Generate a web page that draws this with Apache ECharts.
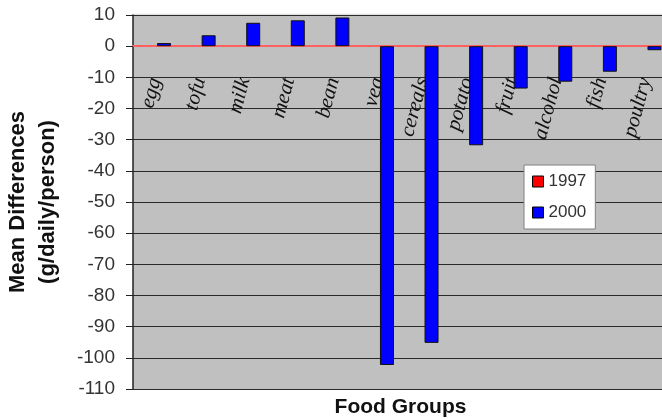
<!DOCTYPE html>
<html>
<head>
<meta charset="utf-8">
<script src="https://cdn.jsdelivr.net/npm/echarts@6/dist/echarts.min.js"></script>
<style>
  html, body { margin: 0; padding: 0; background: #fff; overflow: hidden; }
  #chart { width: 662px; height: 419px; }
</style>
</head>
<body>
<div id="chart"></div>
<script>
// Food groups along the category axis
const categories = ['egg', 'tofu', 'milk', 'meat', 'bean', 'veg', 'cereals', 'potato', 'fruit', 'alcohol', 'fish', 'poultry'];
// Mean differences in intake (g/daily/person)
const values1997 = [0, 0, 0, 0, 0, 0, 0, 0, 0, 0, 0, 0];
const values2000 = [1, 3.5, 7.5, 8.3, 9.2, -102.3, -95.2, -31.8, -13.6, -11.4, -8.2, -1.3];
// Value axis range
const yMin = -110, yMax = 10, yStep = 10;

const gridTop = 15, gridBottom = 30, chartH = 419;
// pixel distance from the bottom of the plot up to the zero line
const zeroLift = (chartH - gridTop - gridBottom) * (0 - yMin) / (yMax - yMin);

const chart = echarts.init(document.getElementById('chart'), null, { renderer: 'canvas' });

chart.setOption({
  animation: false,
  backgroundColor: '#ffffff',
  grid: {
    left: 133, right: -6, top: gridTop, bottom: gridBottom,
    outerBoundsMode: 'none', containLabel: false,
    show: true, backgroundColor: '#c0c0c0', borderWidth: 0
  },
  legend: {
    orient: 'vertical',
    left: 524, top: 165,
    backgroundColor: '#ffffff',
    borderColor: '#808080', borderWidth: 1,
    padding: [8, 9, 8, 8],
    itemGap: 14,
    itemWidth: 11, itemHeight: 11,
    icon: 'rect',
    textStyle: { fontFamily: 'Liberation Sans', fontSize: 17, color: '#333', padding: [0, 0, 0, 0] },
    data: [
      { name: '1997', itemStyle: { color: '#ff0000', borderColor: '#000', borderWidth: 1 } },
      { name: '2000', itemStyle: { color: '#0000ff', borderColor: '#000', borderWidth: 1 } }
    ]
  },
  xAxis: [
    {
      // category axis carrying the red zero line and the axis title
      type: 'category',
      data: categories,
      name: 'Food Groups',
      nameLocation: 'middle',
      nameGap: 8,
      nameTextStyle: { fontFamily: 'Liberation Sans', fontWeight: 'bold', fontSize: 21, color: '#111' },
      axisLine: { onZero: true, lineStyle: { color: '#ff6060', width: 2 } },
      axisTick: { show: false },
      axisLabel: { show: false }
    },
    {
      // same categories, shifted up to the zero line, carrying the slanted labels
      type: 'category',
      data: categories,
      position: 'bottom',
      offset: -zeroLift,
      axisLine: { show: false },
      axisTick: { show: false },
      axisLabel: {
        rotate: 75, margin: 32, interval: 0,
        fontFamily: 'Liberation Serif', fontStyle: 'italic', fontSize: 21, color: '#111'
      }
    }
  ],
  yAxis: {
    type: 'value',
    min: yMin, max: yMax, interval: yStep,
    name: 'Mean Differences\n(g/daily/person)',
    nameLocation: 'middle',
    nameRotate: 90,
    nameGap: 70,
    nameTextStyle: { fontFamily: 'Liberation Sans', fontWeight: 'bold', fontSize: 22, color: '#111', lineHeight: 30, align: 'center' },
    axisLine: { show: true, lineStyle: { color: '#222', width: 1.5 } },
    axisTick: { show: true, inside: false, length: 7, lineStyle: { color: '#222' } },
    axisLabel: { fontFamily: 'Liberation Sans', fontSize: 19, color: '#333', margin: 18 },
    splitLine: { show: true, lineStyle: { color: '#2a2a2a', width: 1.2 } }
  },
  series: [
    {
      name: '1997', type: 'bar', data: values1997,
      barWidth: 14, barGap: '25%',
      itemStyle: { color: '#ff0000', borderWidth: 0 }
    },
    {
      name: '2000', type: 'bar', data: values2000,
      barWidth: 14, barGap: '25%',
      itemStyle: { color: '#0000ff', borderColor: '#111', borderWidth: 1 }
    }
  ],
  graphic: [{
    // light top border of the plot area
    type: 'line', silent: true,
    shape: { x1: 133, y1: 14.5, x2: 662, y2: 14.5 },
    style: { stroke: '#e0e0e0', lineWidth: 1.5 }
  }]
});
</script>
</body>
</html>
